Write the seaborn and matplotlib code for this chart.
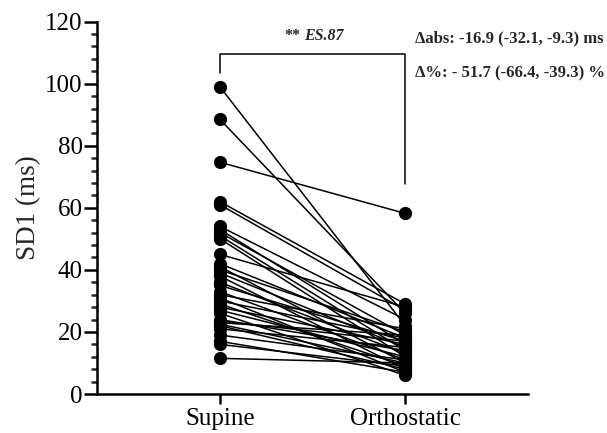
import numpy as np
import pandas as pd
import matplotlib
matplotlib.use('Agg')
import matplotlib.pyplot as plt
import seaborn as sns
from matplotlib.ticker import MultipleLocator

# paired SD1 values (ms), one entry per subject
conditions = ['Supine', 'Orthostatic']
supine = [99, 88.5, 74.7, 62, 61, 54, 53, 52, 51, 50, 45, 42, 41, 40, 39, 38, 36, 35,
          33, 32, 31, 30, 29, 28, 27, 26, 24, 23.5, 23, 22.5, 22, 21, 19, 17, 16, 11.5]
orthostatic = [22, 26, 58.2, 29, 27, 24, 16, 19, 14, 12, 28, 18, 10, 20, 15, 8, 13, 17,
               11, 21, 7, 18, 9, 16, 12, 6, 14, 17, 19, 10, 8, 15, 11, 7, 9, 10]
y_ticks = [0, 20, 40, 60, 80, 100, 120]

stat_label = 'ES.87'
delta_abs = 'Δabs: -16.9 (-32.1, -9.3) ms'
delta_pct = 'Δ%: - 51.7 (-66.4, -39.3) %'

n = len(supine)
df = pd.DataFrame({
    'subject': list(range(n)) * 2,
    'condition': [conditions[0]] * n + [conditions[1]] * n,
    'sd1': supine + orthostatic,
})
df = df.sort_values(['subject', 'condition'], ascending=[True, False], kind='stable')

sns.set_style('ticks')
plt.rcParams['font.family'] = ['Liberation Serif', 'DejaVu Serif']

fig = plt.figure(figsize=(6.07, 4.33), dpi=100)
ax = fig.add_axes([0.160, 0.090, 0.710, 0.860])

sns.lineplot(data=df, x='condition', y='sd1', units='subject', estimator=None,
             sort=False, color='black', linewidth=1.1, marker='o', markersize=9.5,
             markeredgewidth=0, ax=ax)

ax.set_xlim(-0.663, 1.663)
ax.set_ylim(0, 120)
ax.set_yticks(y_ticks)
ax.yaxis.set_minor_locator(MultipleLocator(4))
ax.set_xlabel('')
ax.set_ylabel('SD1 (ms)', fontsize=19.5, labelpad=3)

for side in ['top', 'right']:
    ax.spines[side].set_visible(False)
for side in ['left', 'bottom']:
    ax.spines[side].set_linewidth(1.8)
    ax.spines[side].set_color('black')

ax.tick_params(axis='y', which='major', length=9.5, width=1.8, labelsize=18, pad=1, colors='black')
ax.tick_params(axis='y', which='minor', length=4.5, width=1.8)
ax.tick_params(axis='x', which='major', length=7, width=1.8, labelsize=18, pad=3, colors='black')

# significance bracket
ax.plot([0, 0, 1, 1], [103.5, 109.6, 109.6, 67.7], color='black', lw=1.1, clip_on=False)
ax.text(0.472, 0.962, '**', transform=ax.transAxes, ha='right', va='center',
        fontsize=11.5, fontweight='bold')
ax.text(0.481, 0.962, stat_label, transform=ax.transAxes, ha='left', va='center',
        fontsize=11.5, fontweight='bold', fontstyle='italic')

fig.text(0.683, 0.912, delta_abs, ha='left', va='center', fontsize=12, fontweight='bold')
fig.text(0.683, 0.830, delta_pct, ha='left', va='center', fontsize=12, fontweight='bold')

fig.savefig('out.png', dpi=100)
